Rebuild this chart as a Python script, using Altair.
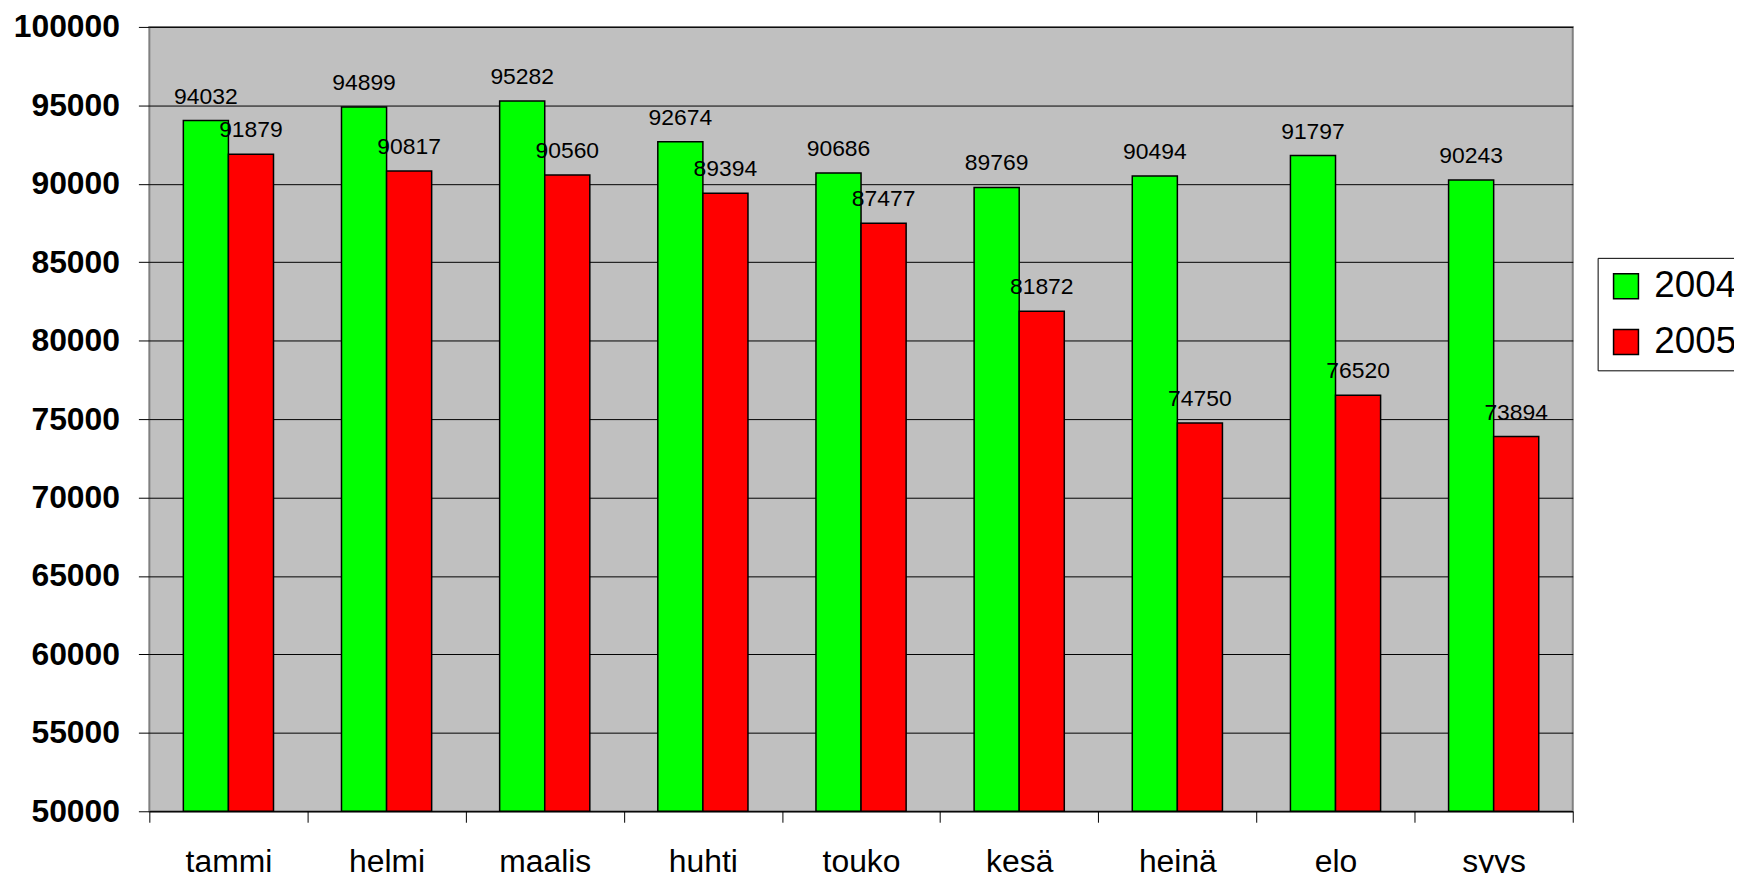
import altair as alt
import pandas as pd

months = ["tammi", "helmi", "maalis", "huhti", "touko", "kesä", "heinä", "elo", "syys"]
years = ["2004", "2005"]
values_2004 = [94032, 94899, 95282, 92674, 90686, 89769, 90494, 91797, 90243]
values_2005 = [91879, 90817, 90560, 89394, 87477, 81872, 74750, 76520, 73894]
y_ticks = list(range(50000, 100001, 5000))
y_min, y_max = 50000, 100000
colors = ["#00FF00", "#FF0000"]

rows = []
for m, a, b in zip(months, values_2004, values_2005):
    rows.append({"kuukausi": m, "vuosi": "2004", "arvo": a})
    rows.append({"kuukausi": m, "vuosi": "2005", "arvo": b})
df = pd.DataFrame(rows)

FONT = "Liberation Sans"

x_enc = alt.X(
    "kuukausi:N",
    sort=months,
    title=None,
    scale=alt.Scale(paddingInner=0, paddingOuter=0),
    axis=alt.Axis(
        labelAngle=0,
        labelFontSize=32,
        labelFont=FONT,
        labelColor="black",
        labelBaseline="alphabetic",
        labelPadding=49,
        tickBand="extent",
        tickSize=11,
        tickColor="black",
        tickWidth=1,
        domainColor="black",
        domainWidth=1,
        grid=False,
    ),
)
xoff = alt.XOffset("vuosi:N", sort=years,
                   scale=alt.Scale(paddingInner=0, paddingOuter=0.754))
y_enc = alt.Y(
    "arvo:Q",
    title=None,
    scale=alt.Scale(domain=[y_min, y_max], zero=False, nice=False),
    axis=alt.Axis(
        values=y_ticks,
        format="d",
        labelFontSize=32,
        labelFontWeight="bold",
        labelFont=FONT,
        labelColor="black",
        labelPadding=19,
        tickSize=11,
        tickColor="black",
        domain=False,
        grid=True,
        gridColor="black",
        gridWidth=1,
    ),
)

bars = alt.Chart(df).mark_bar(stroke="black", strokeWidth=1.5).encode(
    x=x_enc,
    xOffset=xoff,
    y=y_enc,
    y2=alt.datum(y_min),
    color=alt.Color(
        "vuosi:N",
        sort=years,
        scale=alt.Scale(domain=years, range=colors),
        legend=alt.Legend(
            title=None,
            orient="none",
            legendX=1455,
            legendY=232,
            labelFontSize=37,
            labelFont=FONT,
            labelColor="black",
            labelOffset=10,
            symbolType="square",
            symbolSize=625,
            symbolStrokeColor="black",
            symbolStrokeWidth=1.5,
            symbolOpacity=1,
            rowPadding=18,
            padding=10,
            strokeColor="black",
            fillColor="white",
        ),
    ),
)

labels = alt.Chart(df).mark_text(
    baseline="alphabetic", dy=-17, fontSize=23, font=FONT, color="black"
).encode(
    x=alt.X("kuukausi:N", sort=months),
    xOffset=xoff,
    y=alt.Y("arvo:Q"),
    text=alt.Text("arvo:Q", format="d"),
)

chart = alt.layer(bars, labels).properties(
    width=1430,
    height=788,
    autosize=alt.AutoSizeParams(type="none"),
    padding={"left": 142, "top": 17, "right": 162, "bottom": 60},
    background="white",
).configure_view(
    fill="#C0C0C0",
    stroke="#808080",
    strokeWidth=2,
)

chart.save("out.html", embed_options={"renderer": "svg", "actions": False})
